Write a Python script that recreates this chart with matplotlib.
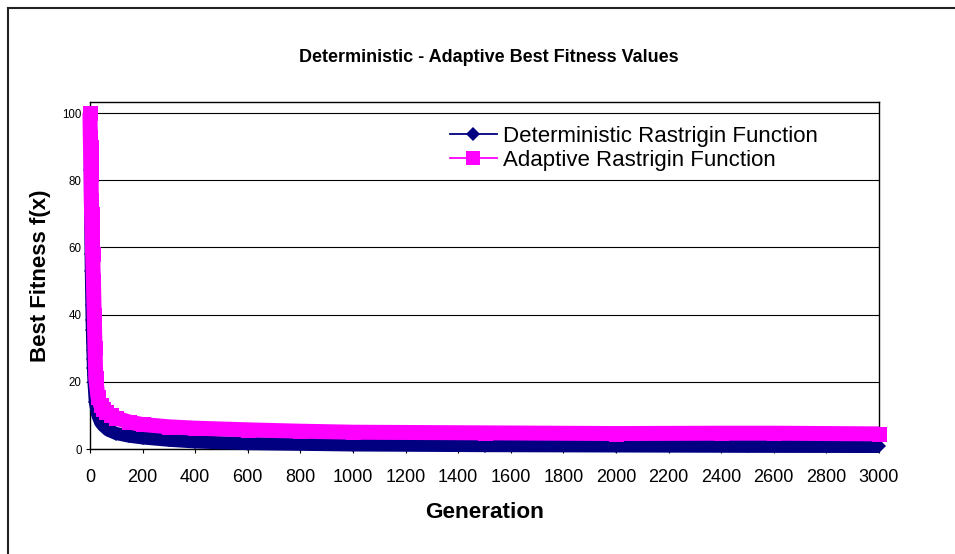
import matplotlib
matplotlib.use("Agg")
import matplotlib.pyplot as plt
from matplotlib.lines import Line2D

plt.rcParams['font.family'] = ['Liberation Sans', 'DejaVu Sans']

# Deterministic Rastrigin (navy diamonds)
det_gen = [0, 1, 2, 3, 4, 5, 6, 7, 8, 9, 10, 11, 12, 13, 14, 15, 20, 30, 40, 50, 70,
           100, 150, 200, 300, 400, 600, 800, 1000, 1500, 2000, 2500, 3000]
det_val = [100, 83, 72.6, 65.8, 58, 53, 48, 43, 38.4, 35.4, 32, 29.5, 26.8, 24, 22, 20,
           14, 10, 8, 7, 5.6, 4.6, 3.8, 3.3, 2.6, 2.1, 1.6, 1.4, 1.2, 1.0, 0.9, 0.8, 0.75]

# Adaptive Rastrigin (magenta squares)
ada_gen = [0, 1, 2, 3, 4, 5, 6, 7, 8, 9, 10, 13, 16, 19, 22, 30, 40, 50, 60, 80, 100,
           150, 200, 300, 400, 600, 800, 1000, 1500, 2000, 2400, 2600, 3000]
ada_val = [100, 93, 90, 86, 82, 74, 70, 67, 64, 61, 58, 50, 40, 30, 21, 15.5, 13.2, 12,
           11, 10, 9.2, 8.0, 7.3, 6.6, 6.2, 5.7, 5.3, 5.0, 4.8, 4.6, 4.7, 4.7, 4.5]

x_ticks = list(range(0, 3001, 200))
y_ticks = [0, 20, 40, 60, 80, 100]

navy = '#000080'
magenta = '#FF00FF'

W, H = 955, 554
fig = plt.figure(figsize=(W / 100, H / 100), dpi=100)
ax = fig.add_axes([90 / W, 1 - 449 / H, (879 - 90) / W, (449 - 102) / H])

# dense marker band approximated by a thick line plus markers
ax.plot(det_gen, det_val, color=navy, lw=9.4, solid_capstyle='butt',
        solid_joinstyle='round', clip_on=False, zorder=3)
ax.plot(det_gen, det_val, color=navy, lw=0, marker='D', markersize=7.1,
        markeredgewidth=0, clip_on=False, zorder=3)
ax.plot(ada_gen, ada_val, color=magenta, lw=10.8, solid_capstyle='butt',
        solid_joinstyle='round', clip_on=False, zorder=4)
ax.plot(ada_gen, ada_val, color=magenta, lw=0, marker='s', markersize=10.8,
        markeredgewidth=0, clip_on=False, zorder=4)

ax.set_xlim(0, 3000)
ax.set_ylim(0, 103.3)
ax.set_xticks(x_ticks)
ax.set_yticks(y_ticks)
ax.tick_params(axis='x', labelsize=13, length=3, width=0.8, direction='out', pad=11.5, colors='black')
ax.tick_params(axis='y', labelsize=8.3, length=3, width=0.8, direction='out', pad=3, colors='black')
ax.yaxis.grid(True, color='black', lw=0.8)
ax.set_axisbelow(True)
for s in ax.spines.values():
    s.set_color('black')
    s.set_linewidth(1.0)

fig.text(484.5 / W, 1 - 512 / H, 'Generation', ha='center', va='center',
         fontsize=16.2, fontweight='bold')
fig.text(40.7 / W, 1 - 276 / H, 'Best Fitness f(x)', ha='center', va='center',
         rotation=90, fontsize=16, fontweight='bold')
fig.text(489 / W, 1 - 57 / H, 'Deterministic - Adaptive Best Fitness Values',
         ha='center', va='center', fontsize=13, fontweight='bold')

handles = [
    Line2D([], [], color=navy, lw=1.3, marker='D', markersize=7, markeredgewidth=0),
    Line2D([], [], color=magenta, lw=1.3, marker='s', markersize=9.5, markeredgewidth=0),
]
leg = ax.legend(handles, ['Deterministic Rastrigin Function', 'Adaptive Rastrigin Function'],
                loc='center left',
                bbox_to_anchor=((450 - 90) / (879 - 90), (449 - 148.5) / (449 - 102)),
                frameon=False, fontsize=16, handlelength=2.1, handletextpad=0.27,
                labelspacing=0.15, borderaxespad=0, borderpad=0)

# outer chart border (top and left)
fig.add_artist(Line2D([8 / W, 1], [1 - 8 / H, 1 - 8 / H], color='#222222', lw=1.5,
                      transform=fig.transFigure))
fig.add_artist(Line2D([8 / W, 8 / W], [0, 1 - 8 / H], color='#222222', lw=1.5,
                      transform=fig.transFigure))

fig.savefig('out.png', dpi=100)
